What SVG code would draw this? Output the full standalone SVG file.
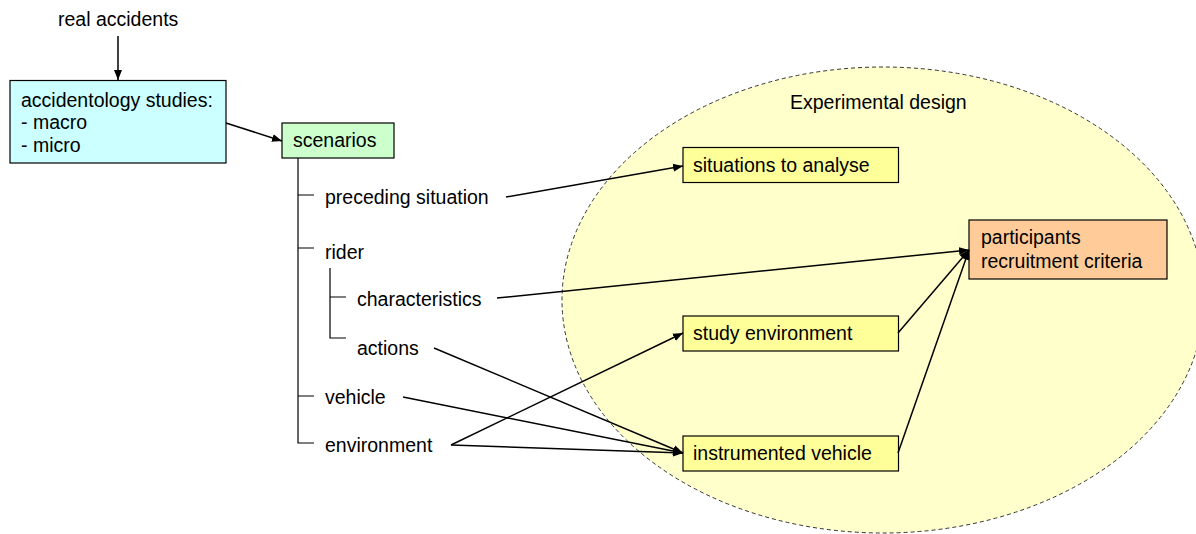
<svg xmlns="http://www.w3.org/2000/svg" width="1196" height="534" viewBox="0 0 1196 534">
<style>
text { font-family: "Liberation Sans", Arial, sans-serif; font-size: 19.5px; fill: #000; }
.box { stroke: #000; stroke-width: 1.2; }
.ln { stroke: #000; stroke-width: 1.5; fill: none; }
.tree { stroke: #000; stroke-width: 1.2; fill: none; }
</style>
<defs>
<marker id="ah" viewBox="0 0 10 10" refX="10" refY="5" markerWidth="10" markerHeight="10" markerUnits="userSpaceOnUse" orient="auto">
<path d="M0,1 L10,5 L0,9 Z" fill="#000"/>
</marker>
</defs>
<g id="experimental-design">
<ellipse cx="883" cy="300" rx="321" ry="233" fill="#FFFFCC" stroke="#333" stroke-width="1" stroke-dasharray="4,3"/>
<text x="790" y="109">Experimental design</text>
</g>
<g id="real-accidents"><text x="58" y="26">real accidents</text></g>
<g id="accidentology">
<rect class="box" x="10" y="80.5" width="216" height="82.5" fill="#CCFFFF"/>
<text x="21" y="107">accidentology studies:</text>
<text x="21" y="129">- macro</text>
<text x="21" y="152">- micro</text>
</g>
<g id="scenarios">
<rect class="box" x="282" y="123" width="112" height="35" fill="#CCFFCC"/>
<text x="293" y="147">scenarios</text>
</g>
<g id="tree">
<path class="tree" d="M298,158 V443 H314 M298,195 H314 M298,248 H314 M298,396 H314 M330,268 V338 H346 M330,297 H346"/>
<text x="325" y="204">preceding situation</text>
<text x="325" y="259">rider</text>
<text x="357" y="306">characteristics</text>
<text x="357" y="355">actions</text>
<text x="325" y="404">vehicle</text>
<text x="325" y="452">environment</text>
</g>
<g id="situations">
<rect class="box" x="683" y="147.5" width="215.5" height="35" fill="#FFFF99"/>
<text x="693" y="172">situations to analyse</text>
</g>
<g id="participants">
<rect class="box" x="969" y="220" width="198" height="59" fill="#FFCC99"/>
<text x="981" y="244">participants</text>
<text x="981" y="268">recruitment criteria</text>
</g>
<g id="study-environment">
<rect class="box" x="683" y="316" width="215.5" height="35" fill="#FFFF99"/>
<text x="693" y="340">study environment</text>
</g>
<g id="instrumented-vehicle">
<rect class="box" x="683" y="436" width="215.5" height="35" fill="#FFFF99"/>
<text x="693" y="460">instrumented vehicle</text>
</g>
<g id="connectors">
<line class="ln" x1="118" y1="36" x2="118" y2="80" marker-end="url(#ah)"/>
<line class="ln" x1="226" y1="123" x2="282" y2="141" marker-end="url(#ah)"/>
<line class="ln" x1="506" y1="197" x2="683" y2="166" marker-end="url(#ah)"/>
<line class="ln" x1="497" y1="298" x2="969" y2="250" marker-end="url(#ah)"/>
<line class="ln" x1="434" y1="348" x2="683" y2="453" marker-end="url(#ah)"/>
<line class="ln" x1="403" y1="397" x2="683" y2="453" marker-end="url(#ah)"/>
<line class="ln" x1="451" y1="445" x2="683" y2="333" marker-end="url(#ah)"/>
<line class="ln" x1="451" y1="445" x2="683" y2="453" marker-end="url(#ah)"/>
<line class="ln" x1="898" y1="333" x2="969" y2="250" marker-end="url(#ah)"/>
<line class="ln" x1="898" y1="453" x2="969" y2="250" marker-end="url(#ah)"/>
</g>
</svg>
